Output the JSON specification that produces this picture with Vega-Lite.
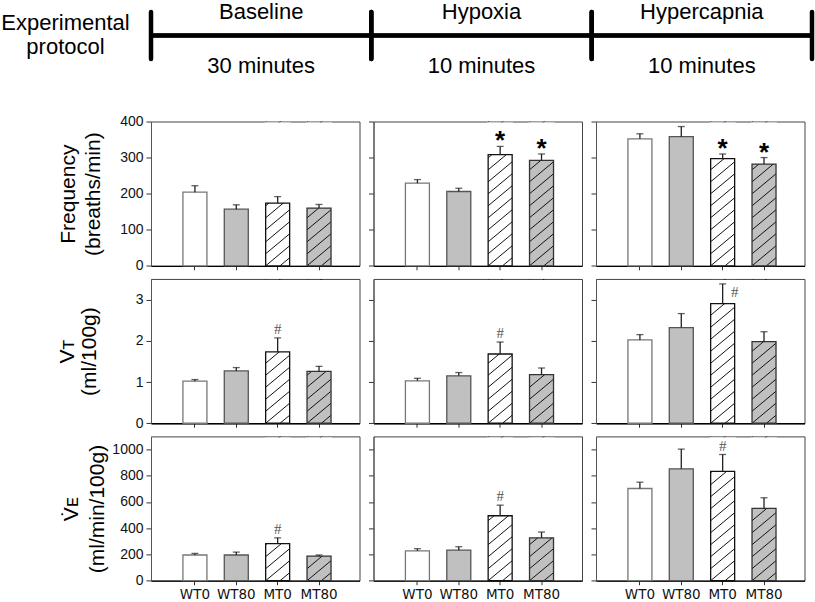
{
"$schema": "https://vega.github.io/schema/vega-lite/v6.json",
"background": "white",
"padding": {"left": 0, "top": 1, "right": 0, "bottom": 0},
"data": {"values": [
{"metric":"Frequency","cond":"Baseline","group":"WT0","mean":204,"err_top":222,"mark":""},
{"metric":"Frequency","cond":"Baseline","group":"WT80","mean":157,"err_top":169,"mark":""},
{"metric":"Frequency","cond":"Baseline","group":"MT0","mean":174,"err_top":192,"mark":""},
{"metric":"Frequency","cond":"Baseline","group":"MT80","mean":160,"err_top":170,"mark":""},
{"metric":"Frequency","cond":"Hypoxia","group":"WT0","mean":229,"err_top":239,"mark":""},
{"metric":"Frequency","cond":"Hypoxia","group":"WT80","mean":206,"err_top":215,"mark":""},
{"metric":"Frequency","cond":"Hypoxia","group":"MT0","mean":308,"err_top":331,"mark":"*"},
{"metric":"Frequency","cond":"Hypoxia","group":"MT80","mean":292,"err_top":310,"mark":"*"},
{"metric":"Frequency","cond":"Hypercapnia","group":"WT0","mean":352,"err_top":366,"mark":""},
{"metric":"Frequency","cond":"Hypercapnia","group":"WT80","mean":358,"err_top":386,"mark":""},
{"metric":"Frequency","cond":"Hypercapnia","group":"MT0","mean":297,"err_top":310,"mark":"*"},
{"metric":"Frequency","cond":"Hypercapnia","group":"MT80","mean":282,"err_top":300,"mark":"*"},
{"metric":"VT","cond":"Baseline","group":"WT0","mean":1.02,"err_top":1.06,"mark":""},
{"metric":"VT","cond":"Baseline","group":"WT80","mean":1.27,"err_top":1.35,"mark":""},
{"metric":"VT","cond":"Baseline","group":"MT0","mean":1.73,"err_top":2.07,"mark":"#"},
{"metric":"VT","cond":"Baseline","group":"MT80","mean":1.26,"err_top":1.38,"mark":""},
{"metric":"VT","cond":"Hypoxia","group":"WT0","mean":1.03,"err_top":1.09,"mark":""},
{"metric":"VT","cond":"Hypoxia","group":"WT80","mean":1.15,"err_top":1.23,"mark":""},
{"metric":"VT","cond":"Hypoxia","group":"MT0","mean":1.68,"err_top":1.97,"mark":"#"},
{"metric":"VT","cond":"Hypoxia","group":"MT80","mean":1.18,"err_top":1.34,"mark":""},
{"metric":"VT","cond":"Hypercapnia","group":"WT0","mean":2.02,"err_top":2.15,"mark":""},
{"metric":"VT","cond":"Hypercapnia","group":"WT80","mean":2.32,"err_top":2.66,"mark":""},
{"metric":"VT","cond":"Hypercapnia","group":"MT0","mean":2.9,"err_top":3.38,"mark":"#"},
{"metric":"VT","cond":"Hypercapnia","group":"MT80","mean":1.98,"err_top":2.22,"mark":""},
{"metric":"VE","cond":"Baseline","group":"WT0","mean":196,"err_top":208,"mark":""},
{"metric":"VE","cond":"Baseline","group":"WT80","mean":196,"err_top":218,"mark":""},
{"metric":"VE","cond":"Baseline","group":"MT0","mean":282,"err_top":327,"mark":"#"},
{"metric":"VE","cond":"Baseline","group":"MT80","mean":188,"err_top":196,"mark":""},
{"metric":"VE","cond":"Hypoxia","group":"WT0","mean":228,"err_top":244,"mark":""},
{"metric":"VE","cond":"Hypoxia","group":"WT80","mean":233,"err_top":259,"mark":""},
{"metric":"VE","cond":"Hypoxia","group":"MT0","mean":495,"err_top":576,"mark":"#"},
{"metric":"VE","cond":"Hypoxia","group":"MT80","mean":327,"err_top":371,"mark":""},
{"metric":"VE","cond":"Hypercapnia","group":"WT0","mean":703,"err_top":751,"mark":""},
{"metric":"VE","cond":"Hypercapnia","group":"WT80","mean":853,"err_top":1003,"mark":""},
{"metric":"VE","cond":"Hypercapnia","group":"MT0","mean":833,"err_top":962,"mark":"#"},
{"metric":"VE","cond":"Hypercapnia","group":"MT80","mean":551,"err_top":632,"mark":""}
]},
"spacing": 36.5,
"vconcat": [
{
 "width": 661, "height": 47,
 "view": {"stroke": null},
 "data": {"values": [
  {"phase":"Baseline","duration":"30 minutes"},
  {"phase":"Hypoxia","duration":"10 minutes"},
  {"phase":"Hypercapnia","duration":"10 minutes"}
 ]},
 "layer": [
  {"mark": {"type":"rule","strokeWidth":4,"color":"#000"},
   "encoding": {"y": {"datum":0,"type":"quantitative","scale":{"domain":[-1,1]},
     "axis": {"title":["Experimental","protocol"],"titleAngle":0,"titleAlign":"center","titleBaseline":"alphabetic","titleX":-86,"titleY":17.5,"titleFontSize":22,"titleLineHeight":23.5,"domain":false,"ticks":false,"labels":false,"grid":false}}}},
  {"mark": {"type":"rule","strokeWidth":4.5,"color":"#000","strokeCap":"round"},
   "encoding": {"x": {"field":"phase","type":"nominal","bandPosition":0,"scale":{"domain":["Baseline","Hypoxia","Hypercapnia"],"paddingInner":0,"paddingOuter":0},"axis":null},
    "y": {"datum":-1,"type":"quantitative","scale":{"domain":[-1,1]}},"y2":{"datum":1}}},
  {"mark": {"type":"rule","strokeWidth":4.5,"color":"#000","strokeCap":"round"},
   "encoding": {"x": {"field":"phase","type":"nominal","bandPosition":1,"scale":{"domain":["Baseline","Hypoxia","Hypercapnia"],"paddingInner":0,"paddingOuter":0},"axis":null},
    "y": {"datum":-1,"type":"quantitative","scale":{"domain":[-1,1]}},"y2":{"datum":1}}},
  {"mark": {"type":"text","fontSize":22,"font":"Liberation Sans","baseline":"alphabetic","dy":7.3,"color":"#000"},
   "encoding": {"x": {"field":"phase","type":"nominal","scale":{"domain":["Baseline","Hypoxia","Hypercapnia"],"paddingInner":0,"paddingOuter":0},"axis":null},
    "y": {"datum":1,"type":"quantitative","scale":{"domain":[-1,1]}},"text":{"field":"phase"}}},
  {"mark": {"type":"text","fontSize":22,"font":"Liberation Sans","baseline":"alphabetic","dy":14,"color":"#000"},
   "encoding": {"x": {"field":"phase","type":"nominal","scale":{"domain":["Baseline","Hypoxia","Hypercapnia"],"paddingInner":0,"paddingOuter":0},"axis":null},
    "y": {"datum":-1,"type":"quantitative","scale":{"domain":[-1,1]}},"text":{"field":"duration"}}}
 ]
},
{
 "columns": 3,
 "bounds": "flush",
 "spacing": {"row": 12.45, "column": 13.5},
 "concat": [
  {"width":208.5,"height":144.3,
   "transform":[{"filter":"datum.metric==='Frequency' && datum.cond==='Baseline'"}],
   "encoding":{"x":{"field":"group","type":"nominal","scale":{"domain":["WT0","WT80","MT0","MT80"],"paddingInner":0,"paddingOuter":0.52,"align":0.54},"axis":{"labels":false,"title":null}}},
   "layer":[
    {"mark":{"type":"bar","width":24},"encoding":{"y":{"field":"mean","type":"quantitative","scale":{"domain":[0,400]},"axis":{"values":[0,100,200,300,400],"format":"d","title":["Frequency","(breaths/min)"],"titleX":-76.4,"titleLineHeight":25}},"fill":{"field":"group","type":"nominal","scale":{"domain":["WT0","WT80","MT0","MT80"],"range":["#ffffff","#c0c0c0","#ffffff","#c0c0c0"]},"legend":null}}},
    {"transform":[{"filter":{"field":"group","oneOf":["MT0","MT80"]}}],"mark":{"type":"point","shape":"M0.2,0L1,-0.667M-1,0L1,-1.667M-1,-1L1,-2.667M-1,-2L1,-3.667M-1,-3L1,-4.667M-1,-4L1,-5.667M-1,-5L1,-6.667M-1,-6L1,-7.667M-1,-7L1,-8.667M-1,-8L1,-9.667M-1,-9L1,-10.667M-1,-10L1,-11.667M-1,-11L1,-12.667M-1,-12L1,-13.667","size":576,"filled":false,"stroke":"#111","strokeWidth":1,"opacity":1,"clip":true},"encoding":{"y":{"datum":0,"type":"quantitative","scale":{"domain":[0,400]}}}},
    {"transform":[{"filter":{"field":"group","oneOf":["MT0","MT80"]}}],"mark":{"type":"bar","width":26,"fill":"#ffffff","y2Offset":1},"encoding":{"y":{"field":"mean","type":"quantitative","scale":{"domain":[0,400]}},"y2":{"datum":400}}},
    {"mark":{"type":"bar","width":24,"fillOpacity":0,"strokeWidth":1.3},"encoding":{"y":{"field":"mean","type":"quantitative","scale":{"domain":[0,400]}},"stroke":{"field":"group","type":"nominal","scale":{"domain":["WT0","WT80","MT0","MT80"],"range":["#777777","#555555","#111111","#333333"]},"legend":null}}},
    {"mark":{"type":"rule","color":"#222","strokeWidth":1.3},"encoding":{"y":{"field":"mean","type":"quantitative","scale":{"domain":[0,400]}},"y2":{"field":"err_top"}}},
    {"mark":{"type":"tick","orient":"horizontal","size":7,"thickness":1.3,"color":"#222"},"encoding":{"y":{"field":"err_top","type":"quantitative","scale":{"domain":[0,400]}}}},
    {"transform":[{"filter":{"field":"mark","equal":"*"}}],"mark":{"type":"text","font":"Liberation Sans","fontWeight":"bold","fontSize":26,"baseline":"alphabetic","dy":3,"color":"#000"},"encoding":{"y":{"field":"err_top","type":"quantitative","scale":{"domain":[0,400]}},"text":{"field":"mark"}}},
    {"transform":[{"filter":{"field":"mark","equal":"#"}}],"mark":{"type":"text","font":"Liberation Serif","fontSize":15,"baseline":"alphabetic","dy":-4,"color":"#555"},"encoding":{"y":{"field":"err_top","type":"quantitative","scale":{"domain":[0,400]}},"text":{"field":"mark"}}}
   ]},
  {"width":208.5,"height":144.3,
   "transform":[{"filter":"datum.metric==='Frequency' && datum.cond==='Hypoxia'"}],
   "encoding":{"x":{"field":"group","type":"nominal","scale":{"domain":["WT0","WT80","MT0","MT80"],"paddingInner":0,"paddingOuter":0.52,"align":0.54},"axis":{"labels":false,"title":null}}},
   "layer":[
    {"mark":{"type":"bar","width":24},"encoding":{"y":{"field":"mean","type":"quantitative","scale":{"domain":[0,400]},"axis":{"values":[0,100,200,300,400],"labels":false,"title":null}},"fill":{"field":"group","type":"nominal","scale":{"domain":["WT0","WT80","MT0","MT80"],"range":["#ffffff","#c0c0c0","#ffffff","#c0c0c0"]},"legend":null}}},
    {"transform":[{"filter":{"field":"group","oneOf":["MT0","MT80"]}}],"mark":{"type":"point","shape":"M0.2,0L1,-0.667M-1,0L1,-1.667M-1,-1L1,-2.667M-1,-2L1,-3.667M-1,-3L1,-4.667M-1,-4L1,-5.667M-1,-5L1,-6.667M-1,-6L1,-7.667M-1,-7L1,-8.667M-1,-8L1,-9.667M-1,-9L1,-10.667M-1,-10L1,-11.667M-1,-11L1,-12.667M-1,-12L1,-13.667","size":576,"filled":false,"stroke":"#111","strokeWidth":1,"opacity":1,"clip":true},"encoding":{"y":{"datum":0,"type":"quantitative","scale":{"domain":[0,400]}}}},
    {"transform":[{"filter":{"field":"group","oneOf":["MT0","MT80"]}}],"mark":{"type":"bar","width":26,"fill":"#ffffff","y2Offset":1},"encoding":{"y":{"field":"mean","type":"quantitative","scale":{"domain":[0,400]}},"y2":{"datum":400}}},
    {"mark":{"type":"bar","width":24,"fillOpacity":0,"strokeWidth":1.3},"encoding":{"y":{"field":"mean","type":"quantitative","scale":{"domain":[0,400]}},"stroke":{"field":"group","type":"nominal","scale":{"domain":["WT0","WT80","MT0","MT80"],"range":["#777777","#555555","#111111","#333333"]},"legend":null}}},
    {"mark":{"type":"rule","color":"#222","strokeWidth":1.3},"encoding":{"y":{"field":"mean","type":"quantitative","scale":{"domain":[0,400]}},"y2":{"field":"err_top"}}},
    {"mark":{"type":"tick","orient":"horizontal","size":7,"thickness":1.3,"color":"#222"},"encoding":{"y":{"field":"err_top","type":"quantitative","scale":{"domain":[0,400]}}}},
    {"transform":[{"filter":{"field":"mark","equal":"*"}}],"mark":{"type":"text","font":"Liberation Sans","fontWeight":"bold","fontSize":26,"baseline":"alphabetic","dy":3,"color":"#000"},"encoding":{"y":{"field":"err_top","type":"quantitative","scale":{"domain":[0,400]}},"text":{"field":"mark"}}},
    {"transform":[{"filter":{"field":"mark","equal":"#"}}],"mark":{"type":"text","font":"Liberation Serif","fontSize":15,"baseline":"alphabetic","dy":-4,"color":"#555"},"encoding":{"y":{"field":"err_top","type":"quantitative","scale":{"domain":[0,400]}},"text":{"field":"mark"}}}
   ]},
  {"width":208.5,"height":144.3,
   "transform":[{"filter":"datum.metric==='Frequency' && datum.cond==='Hypercapnia'"}],
   "encoding":{"x":{"field":"group","type":"nominal","scale":{"domain":["WT0","WT80","MT0","MT80"],"paddingInner":0,"paddingOuter":0.52,"align":0.54},"axis":{"labels":false,"title":null}}},
   "layer":[
    {"mark":{"type":"bar","width":24},"encoding":{"y":{"field":"mean","type":"quantitative","scale":{"domain":[0,400]},"axis":{"values":[0,100,200,300,400],"labels":false,"title":null}},"fill":{"field":"group","type":"nominal","scale":{"domain":["WT0","WT80","MT0","MT80"],"range":["#ffffff","#c0c0c0","#ffffff","#c0c0c0"]},"legend":null}}},
    {"transform":[{"filter":{"field":"group","oneOf":["MT0","MT80"]}}],"mark":{"type":"point","shape":"M0.2,0L1,-0.667M-1,0L1,-1.667M-1,-1L1,-2.667M-1,-2L1,-3.667M-1,-3L1,-4.667M-1,-4L1,-5.667M-1,-5L1,-6.667M-1,-6L1,-7.667M-1,-7L1,-8.667M-1,-8L1,-9.667M-1,-9L1,-10.667M-1,-10L1,-11.667M-1,-11L1,-12.667M-1,-12L1,-13.667","size":576,"filled":false,"stroke":"#111","strokeWidth":1,"opacity":1,"clip":true},"encoding":{"y":{"datum":0,"type":"quantitative","scale":{"domain":[0,400]}}}},
    {"transform":[{"filter":{"field":"group","oneOf":["MT0","MT80"]}}],"mark":{"type":"bar","width":26,"fill":"#ffffff","y2Offset":1},"encoding":{"y":{"field":"mean","type":"quantitative","scale":{"domain":[0,400]}},"y2":{"datum":400}}},
    {"mark":{"type":"bar","width":24,"fillOpacity":0,"strokeWidth":1.3},"encoding":{"y":{"field":"mean","type":"quantitative","scale":{"domain":[0,400]}},"stroke":{"field":"group","type":"nominal","scale":{"domain":["WT0","WT80","MT0","MT80"],"range":["#777777","#555555","#111111","#333333"]},"legend":null}}},
    {"mark":{"type":"rule","color":"#222","strokeWidth":1.3},"encoding":{"y":{"field":"mean","type":"quantitative","scale":{"domain":[0,400]}},"y2":{"field":"err_top"}}},
    {"mark":{"type":"tick","orient":"horizontal","size":7,"thickness":1.3,"color":"#222"},"encoding":{"y":{"field":"err_top","type":"quantitative","scale":{"domain":[0,400]}}}},
    {"transform":[{"filter":{"field":"mark","equal":"*"}}],"mark":{"type":"text","font":"Liberation Sans","fontWeight":"bold","fontSize":26,"baseline":"alphabetic","dy":3,"color":"#000"},"encoding":{"y":{"field":"err_top","type":"quantitative","scale":{"domain":[0,400]}},"text":{"field":"mark"}}},
    {"transform":[{"filter":{"field":"mark","equal":"#"}}],"mark":{"type":"text","font":"Liberation Serif","fontSize":15,"baseline":"alphabetic","dy":-4,"color":"#555"},"encoding":{"y":{"field":"err_top","type":"quantitative","scale":{"domain":[0,400]}},"text":{"field":"mark"}}}
   ]},
  {"width":208.5,"height":144.3,
   "transform":[{"filter":"datum.metric==='VT' && datum.cond==='Baseline'"}],
   "encoding":{"x":{"field":"group","type":"nominal","scale":{"domain":["WT0","WT80","MT0","MT80"],"paddingInner":0,"paddingOuter":0.52,"align":0.54},"axis":{"labels":false,"title":null}}},
   "layer":[
    {"mark":{"type":"bar","width":24},"encoding":{"y":{"field":"mean","type":"quantitative","scale":{"domain":[0,3.5]},"axis":{"values":[0,1,2,3],"format":"d","title":["Vᴛ","(ml/100g)"],"titleX":-78,"titleLineHeight":22.6}},"fill":{"field":"group","type":"nominal","scale":{"domain":["WT0","WT80","MT0","MT80"],"range":["#ffffff","#c0c0c0","#ffffff","#c0c0c0"]},"legend":null}}},
    {"transform":[{"filter":{"field":"group","oneOf":["MT0","MT80"]}}],"mark":{"type":"point","shape":"M0.2,0L1,-0.667M-1,0L1,-1.667M-1,-1L1,-2.667M-1,-2L1,-3.667M-1,-3L1,-4.667M-1,-4L1,-5.667M-1,-5L1,-6.667M-1,-6L1,-7.667M-1,-7L1,-8.667M-1,-8L1,-9.667M-1,-9L1,-10.667M-1,-10L1,-11.667M-1,-11L1,-12.667M-1,-12L1,-13.667","size":576,"filled":false,"stroke":"#111","strokeWidth":1,"opacity":1,"clip":true},"encoding":{"y":{"datum":0,"type":"quantitative","scale":{"domain":[0,3.5]}}}},
    {"transform":[{"filter":{"field":"group","oneOf":["MT0","MT80"]}}],"mark":{"type":"bar","width":26,"fill":"#ffffff","y2Offset":1},"encoding":{"y":{"field":"mean","type":"quantitative","scale":{"domain":[0,3.5]}},"y2":{"datum":3.5}}},
    {"mark":{"type":"bar","width":24,"fillOpacity":0,"strokeWidth":1.3},"encoding":{"y":{"field":"mean","type":"quantitative","scale":{"domain":[0,3.5]}},"stroke":{"field":"group","type":"nominal","scale":{"domain":["WT0","WT80","MT0","MT80"],"range":["#777777","#555555","#111111","#333333"]},"legend":null}}},
    {"mark":{"type":"rule","color":"#222","strokeWidth":1.3},"encoding":{"y":{"field":"mean","type":"quantitative","scale":{"domain":[0,3.5]}},"y2":{"field":"err_top"}}},
    {"mark":{"type":"tick","orient":"horizontal","size":7,"thickness":1.3,"color":"#222"},"encoding":{"y":{"field":"err_top","type":"quantitative","scale":{"domain":[0,3.5]}}}},
    {"transform":[{"filter":{"field":"mark","equal":"#"}}],"mark":{"type":"text","font":"Liberation Serif","fontSize":15,"baseline":"alphabetic","dy":-4,"color":"#555"},"encoding":{"y":{"field":"err_top","type":"quantitative","scale":{"domain":[0,3.5]}},"text":{"field":"mark"}}}
   ]},
  {"width":208.5,"height":144.3,
   "transform":[{"filter":"datum.metric==='VT' && datum.cond==='Hypoxia'"}],
   "encoding":{"x":{"field":"group","type":"nominal","scale":{"domain":["WT0","WT80","MT0","MT80"],"paddingInner":0,"paddingOuter":0.52,"align":0.54},"axis":{"labels":false,"title":null}}},
   "layer":[
    {"mark":{"type":"bar","width":24},"encoding":{"y":{"field":"mean","type":"quantitative","scale":{"domain":[0,3.5]},"axis":{"values":[0,1,2,3],"labels":false,"title":null}},"fill":{"field":"group","type":"nominal","scale":{"domain":["WT0","WT80","MT0","MT80"],"range":["#ffffff","#c0c0c0","#ffffff","#c0c0c0"]},"legend":null}}},
    {"transform":[{"filter":{"field":"group","oneOf":["MT0","MT80"]}}],"mark":{"type":"point","shape":"M0.2,0L1,-0.667M-1,0L1,-1.667M-1,-1L1,-2.667M-1,-2L1,-3.667M-1,-3L1,-4.667M-1,-4L1,-5.667M-1,-5L1,-6.667M-1,-6L1,-7.667M-1,-7L1,-8.667M-1,-8L1,-9.667M-1,-9L1,-10.667M-1,-10L1,-11.667M-1,-11L1,-12.667M-1,-12L1,-13.667","size":576,"filled":false,"stroke":"#111","strokeWidth":1,"opacity":1,"clip":true},"encoding":{"y":{"datum":0,"type":"quantitative","scale":{"domain":[0,3.5]}}}},
    {"transform":[{"filter":{"field":"group","oneOf":["MT0","MT80"]}}],"mark":{"type":"bar","width":26,"fill":"#ffffff","y2Offset":1},"encoding":{"y":{"field":"mean","type":"quantitative","scale":{"domain":[0,3.5]}},"y2":{"datum":3.5}}},
    {"mark":{"type":"bar","width":24,"fillOpacity":0,"strokeWidth":1.3},"encoding":{"y":{"field":"mean","type":"quantitative","scale":{"domain":[0,3.5]}},"stroke":{"field":"group","type":"nominal","scale":{"domain":["WT0","WT80","MT0","MT80"],"range":["#777777","#555555","#111111","#333333"]},"legend":null}}},
    {"mark":{"type":"rule","color":"#222","strokeWidth":1.3},"encoding":{"y":{"field":"mean","type":"quantitative","scale":{"domain":[0,3.5]}},"y2":{"field":"err_top"}}},
    {"mark":{"type":"tick","orient":"horizontal","size":7,"thickness":1.3,"color":"#222"},"encoding":{"y":{"field":"err_top","type":"quantitative","scale":{"domain":[0,3.5]}}}},
    {"transform":[{"filter":{"field":"mark","equal":"#"}}],"mark":{"type":"text","font":"Liberation Serif","fontSize":15,"baseline":"alphabetic","dy":-4,"color":"#555"},"encoding":{"y":{"field":"err_top","type":"quantitative","scale":{"domain":[0,3.5]}},"text":{"field":"mark"}}}
   ]},
  {"width":208.5,"height":144.3,
   "transform":[{"filter":"datum.metric==='VT' && datum.cond==='Hypercapnia'"}],
   "encoding":{"x":{"field":"group","type":"nominal","scale":{"domain":["WT0","WT80","MT0","MT80"],"paddingInner":0,"paddingOuter":0.52,"align":0.54},"axis":{"labels":false,"title":null}}},
   "layer":[
    {"mark":{"type":"bar","width":24},"encoding":{"y":{"field":"mean","type":"quantitative","scale":{"domain":[0,3.5]},"axis":{"values":[0,1,2,3],"labels":false,"title":null}},"fill":{"field":"group","type":"nominal","scale":{"domain":["WT0","WT80","MT0","MT80"],"range":["#ffffff","#c0c0c0","#ffffff","#c0c0c0"]},"legend":null}}},
    {"transform":[{"filter":{"field":"group","oneOf":["MT0","MT80"]}}],"mark":{"type":"point","shape":"M0.2,0L1,-0.667M-1,0L1,-1.667M-1,-1L1,-2.667M-1,-2L1,-3.667M-1,-3L1,-4.667M-1,-4L1,-5.667M-1,-5L1,-6.667M-1,-6L1,-7.667M-1,-7L1,-8.667M-1,-8L1,-9.667M-1,-9L1,-10.667M-1,-10L1,-11.667M-1,-11L1,-12.667M-1,-12L1,-13.667","size":576,"filled":false,"stroke":"#111","strokeWidth":1,"opacity":1,"clip":true},"encoding":{"y":{"datum":0,"type":"quantitative","scale":{"domain":[0,3.5]}}}},
    {"transform":[{"filter":{"field":"group","oneOf":["MT0","MT80"]}}],"mark":{"type":"bar","width":26,"fill":"#ffffff","y2Offset":1},"encoding":{"y":{"field":"mean","type":"quantitative","scale":{"domain":[0,3.5]}},"y2":{"datum":3.5}}},
    {"mark":{"type":"bar","width":24,"fillOpacity":0,"strokeWidth":1.3},"encoding":{"y":{"field":"mean","type":"quantitative","scale":{"domain":[0,3.5]}},"stroke":{"field":"group","type":"nominal","scale":{"domain":["WT0","WT80","MT0","MT80"],"range":["#777777","#555555","#111111","#333333"]},"legend":null}}},
    {"mark":{"type":"rule","color":"#222","strokeWidth":1.3},"encoding":{"y":{"field":"mean","type":"quantitative","scale":{"domain":[0,3.5]}},"y2":{"field":"err_top"}}},
    {"mark":{"type":"tick","orient":"horizontal","size":7,"thickness":1.3,"color":"#222"},"encoding":{"y":{"field":"err_top","type":"quantitative","scale":{"domain":[0,3.5]}}}},
    {"transform":[{"filter":{"field":"mark","equal":"#"}}],"mark":{"type":"text","font":"Liberation Serif","fontSize":15,"baseline":"alphabetic","dx":12,"dy":13.4,"color":"#555"},"encoding":{"y":{"field":"err_top","type":"quantitative","scale":{"domain":[0,3.5]}},"text":{"field":"mark"}}}
   ]},
  {"width":208.5,"height":144.3,
   "transform":[{"filter":"datum.metric==='VE' && datum.cond==='Baseline'"}],
   "encoding":{"x":{"field":"group","type":"nominal","scale":{"domain":["WT0","WT80","MT0","MT80"],"paddingInner":0,"paddingOuter":0.52,"align":0.54},"axis":{"title":null,"labelFont":"DejaVu Sans","labelFontSize":13.5,"labelPadding":3,"labelAngle":0}}},
   "layer":[
    {"mark":{"type":"bar","width":24},"encoding":{"y":{"field":"mean","type":"quantitative","scale":{"domain":[0,1100]},"axis":{"values":[0,200,400,600,800,1000],"format":"d","title":["V̇ᴇ","(ml/min/100g)"],"titleX":-73.3,"titleLineHeight":26}},"fill":{"field":"group","type":"nominal","scale":{"domain":["WT0","WT80","MT0","MT80"],"range":["#ffffff","#c0c0c0","#ffffff","#c0c0c0"]},"legend":null}}},
    {"transform":[{"filter":{"field":"group","oneOf":["MT0","MT80"]}}],"mark":{"type":"point","shape":"M0.2,0L1,-0.667M-1,0L1,-1.667M-1,-1L1,-2.667M-1,-2L1,-3.667M-1,-3L1,-4.667M-1,-4L1,-5.667M-1,-5L1,-6.667M-1,-6L1,-7.667M-1,-7L1,-8.667M-1,-8L1,-9.667M-1,-9L1,-10.667M-1,-10L1,-11.667M-1,-11L1,-12.667M-1,-12L1,-13.667","size":576,"filled":false,"stroke":"#111","strokeWidth":1,"opacity":1,"clip":true},"encoding":{"y":{"datum":0,"type":"quantitative","scale":{"domain":[0,1100]}}}},
    {"transform":[{"filter":{"field":"group","oneOf":["MT0","MT80"]}}],"mark":{"type":"bar","width":26,"fill":"#ffffff","y2Offset":1},"encoding":{"y":{"field":"mean","type":"quantitative","scale":{"domain":[0,1100]}},"y2":{"datum":1100}}},
    {"mark":{"type":"bar","width":24,"fillOpacity":0,"strokeWidth":1.3},"encoding":{"y":{"field":"mean","type":"quantitative","scale":{"domain":[0,1100]}},"stroke":{"field":"group","type":"nominal","scale":{"domain":["WT0","WT80","MT0","MT80"],"range":["#777777","#555555","#111111","#333333"]},"legend":null}}},
    {"mark":{"type":"rule","color":"#222","strokeWidth":1.3},"encoding":{"y":{"field":"mean","type":"quantitative","scale":{"domain":[0,1100]}},"y2":{"field":"err_top"}}},
    {"mark":{"type":"tick","orient":"horizontal","size":7,"thickness":1.3,"color":"#222"},"encoding":{"y":{"field":"err_top","type":"quantitative","scale":{"domain":[0,1100]}}}},
    {"transform":[{"filter":{"field":"mark","equal":"#"}}],"mark":{"type":"text","font":"Liberation Serif","fontSize":15,"baseline":"alphabetic","dy":-4,"color":"#555"},"encoding":{"y":{"field":"err_top","type":"quantitative","scale":{"domain":[0,1100]}},"text":{"field":"mark"}}}
   ]},
  {"width":208.5,"height":144.3,
   "transform":[{"filter":"datum.metric==='VE' && datum.cond==='Hypoxia'"}],
   "encoding":{"x":{"field":"group","type":"nominal","scale":{"domain":["WT0","WT80","MT0","MT80"],"paddingInner":0,"paddingOuter":0.52,"align":0.54},"axis":{"title":null,"labelFont":"DejaVu Sans","labelFontSize":13.5,"labelPadding":3,"labelAngle":0}}},
   "layer":[
    {"mark":{"type":"bar","width":24},"encoding":{"y":{"field":"mean","type":"quantitative","scale":{"domain":[0,1100]},"axis":{"values":[0,200,400,600,800,1000],"labels":false,"title":null}},"fill":{"field":"group","type":"nominal","scale":{"domain":["WT0","WT80","MT0","MT80"],"range":["#ffffff","#c0c0c0","#ffffff","#c0c0c0"]},"legend":null}}},
    {"transform":[{"filter":{"field":"group","oneOf":["MT0","MT80"]}}],"mark":{"type":"point","shape":"M0.2,0L1,-0.667M-1,0L1,-1.667M-1,-1L1,-2.667M-1,-2L1,-3.667M-1,-3L1,-4.667M-1,-4L1,-5.667M-1,-5L1,-6.667M-1,-6L1,-7.667M-1,-7L1,-8.667M-1,-8L1,-9.667M-1,-9L1,-10.667M-1,-10L1,-11.667M-1,-11L1,-12.667M-1,-12L1,-13.667","size":576,"filled":false,"stroke":"#111","strokeWidth":1,"opacity":1,"clip":true},"encoding":{"y":{"datum":0,"type":"quantitative","scale":{"domain":[0,1100]}}}},
    {"transform":[{"filter":{"field":"group","oneOf":["MT0","MT80"]}}],"mark":{"type":"bar","width":26,"fill":"#ffffff","y2Offset":1},"encoding":{"y":{"field":"mean","type":"quantitative","scale":{"domain":[0,1100]}},"y2":{"datum":1100}}},
    {"mark":{"type":"bar","width":24,"fillOpacity":0,"strokeWidth":1.3},"encoding":{"y":{"field":"mean","type":"quantitative","scale":{"domain":[0,1100]}},"stroke":{"field":"group","type":"nominal","scale":{"domain":["WT0","WT80","MT0","MT80"],"range":["#777777","#555555","#111111","#333333"]},"legend":null}}},
    {"mark":{"type":"rule","color":"#222","strokeWidth":1.3},"encoding":{"y":{"field":"mean","type":"quantitative","scale":{"domain":[0,1100]}},"y2":{"field":"err_top"}}},
    {"mark":{"type":"tick","orient":"horizontal","size":7,"thickness":1.3,"color":"#222"},"encoding":{"y":{"field":"err_top","type":"quantitative","scale":{"domain":[0,1100]}}}},
    {"transform":[{"filter":{"field":"mark","equal":"#"}}],"mark":{"type":"text","font":"Liberation Serif","fontSize":15,"baseline":"alphabetic","dy":-4,"color":"#555"},"encoding":{"y":{"field":"err_top","type":"quantitative","scale":{"domain":[0,1100]}},"text":{"field":"mark"}}}
   ]},
  {"width":208.5,"height":144.3,
   "transform":[{"filter":"datum.metric==='VE' && datum.cond==='Hypercapnia'"}],
   "encoding":{"x":{"field":"group","type":"nominal","scale":{"domain":["WT0","WT80","MT0","MT80"],"paddingInner":0,"paddingOuter":0.52,"align":0.54},"axis":{"title":null,"labelFont":"DejaVu Sans","labelFontSize":13.5,"labelPadding":3,"labelAngle":0}}},
   "layer":[
    {"mark":{"type":"bar","width":24},"encoding":{"y":{"field":"mean","type":"quantitative","scale":{"domain":[0,1100]},"axis":{"values":[0,200,400,600,800,1000],"labels":false,"title":null}},"fill":{"field":"group","type":"nominal","scale":{"domain":["WT0","WT80","MT0","MT80"],"range":["#ffffff","#c0c0c0","#ffffff","#c0c0c0"]},"legend":null}}},
    {"transform":[{"filter":{"field":"group","oneOf":["MT0","MT80"]}}],"mark":{"type":"point","shape":"M0.2,0L1,-0.667M-1,0L1,-1.667M-1,-1L1,-2.667M-1,-2L1,-3.667M-1,-3L1,-4.667M-1,-4L1,-5.667M-1,-5L1,-6.667M-1,-6L1,-7.667M-1,-7L1,-8.667M-1,-8L1,-9.667M-1,-9L1,-10.667M-1,-10L1,-11.667M-1,-11L1,-12.667M-1,-12L1,-13.667","size":576,"filled":false,"stroke":"#111","strokeWidth":1,"opacity":1,"clip":true},"encoding":{"y":{"datum":0,"type":"quantitative","scale":{"domain":[0,1100]}}}},
    {"transform":[{"filter":{"field":"group","oneOf":["MT0","MT80"]}}],"mark":{"type":"bar","width":26,"fill":"#ffffff","y2Offset":1},"encoding":{"y":{"field":"mean","type":"quantitative","scale":{"domain":[0,1100]}},"y2":{"datum":1100}}},
    {"mark":{"type":"bar","width":24,"fillOpacity":0,"strokeWidth":1.3},"encoding":{"y":{"field":"mean","type":"quantitative","scale":{"domain":[0,1100]}},"stroke":{"field":"group","type":"nominal","scale":{"domain":["WT0","WT80","MT0","MT80"],"range":["#777777","#555555","#111111","#333333"]},"legend":null}}},
    {"mark":{"type":"rule","color":"#222","strokeWidth":1.3},"encoding":{"y":{"field":"mean","type":"quantitative","scale":{"domain":[0,1100]}},"y2":{"field":"err_top"}}},
    {"mark":{"type":"tick","orient":"horizontal","size":7,"thickness":1.3,"color":"#222"},"encoding":{"y":{"field":"err_top","type":"quantitative","scale":{"domain":[0,1100]}}}},
    {"transform":[{"filter":{"field":"mark","equal":"#"}}],"mark":{"type":"text","font":"Liberation Serif","fontSize":15,"baseline":"alphabetic","dy":-4,"color":"#555"},"encoding":{"y":{"field":"err_top","type":"quantitative","scale":{"domain":[0,1100]}},"text":{"field":"mark"}}}
   ]}
 ]
}
],
"config": {
 "font": "Liberation Sans",
 "view": {"stroke": "#444", "strokeWidth": 1},
 "axis": {"grid": false, "zindex": 1, "domainColor": "#222", "tickColor": "#333", "labelColor": "#111", "labelFont": "Liberation Sans", "titleFont": "Liberation Sans", "titleFontWeight": "normal", "titleColor": "#000"},
 "axisX": {"tickSize": 4, "domainWidth": 1.3, "domainColor": "#000"},
 "axisY": {"tickSize": 5, "labelFontSize": 14, "labelPadding": 3, "domainColor": "#555", "titleFontSize": 21, "titleBaseline": "alphabetic", "labelOverlap": false, "tickCount": 12}
}
}
